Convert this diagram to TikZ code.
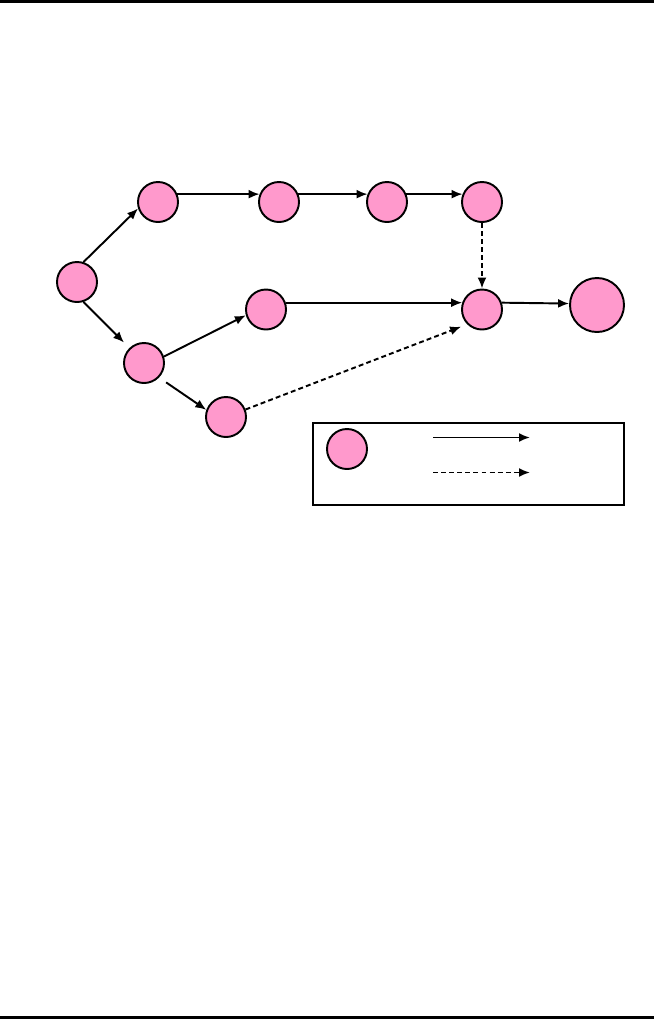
\documentclass[tikz,border=0pt]{standalone}
\usetikzlibrary{arrows.meta}
\definecolor{nodepink}{RGB}{255,153,204}
\tikzset{
  ev/.style={circle,draw,line width=1.1pt,fill=nodepink,minimum size=0.8cm,inner sep=0pt},
  evbig/.style={ev,minimum size=1.08cm},
  act/.style={->,line width=1.1pt},
  dum/.style={->,line width=1.1pt,dash pattern=on 2.8pt off 1.8pt}
}
\begin{document}
\begin{tikzpicture}[>={Latex[length=2.2mm,width=1.8mm]}]
	  \useasboundingbox (0,0) rectangle (13.08,-20.4);
	  \draw[line width=1.4pt] (0,-0.03) -- (13.08,-0.03);
	  \draw[line width=1.4pt] (0,-20.35) -- (13.08,-20.35);
	  \node[ev] (n1) at (1.54,-5.64) {};
	  \node[ev] (n2) at (3.16,-4.04) {};
	  \node[ev] (n3) at (5.58,-4.04) {};
	  \node[ev] (n4) at (7.74,-4.04) {};
	  \node[ev] (n5) at (9.64,-4.04) {};
	  \node[ev] (n6) at (5.32,-6.19) {};
	  \node[ev] (n7) at (2.88,-7.26) {};
	  \node[ev] (n8) at (4.52,-8.34) {};
	  \node[ev] (n9) at (9.64,-6.19) {};
	  \node[evbig] (n10) at (11.94,-6.10) {};
	  \draw[act] (n1.72) -- (n2.198);
	  \draw[act,shorten >=0.15cm] (n1.-72) -- (n7.134);
	  \draw[act] (n2.22) -- (n3.158);
	  \draw[act] (n3.22) -- (n4.158);
	  \draw[act] (n4.22) -- (n5.158);
	  \draw[act] (n7.18) -- (n6.196);
	  \draw[act,shorten <=0.17cm] (n7.-44) -- (n8.160);
	  \draw[act] (n6.19) -- (n9.161);
	  \draw[act] (n9.19) -- (n10.177);
	  \draw[dum] (n5) -- (n9);
	  \draw[dum,shorten >=0.13cm] (n8.21) -- (n9.225);
	  % legend
	  \draw[line width=1.1pt] (6.26,-8.46) rectangle (12.48,-10.10);
	  \node[ev] (key) at (6.94,-8.98) {};
	  \coordinate (ka) at (8.66,-8.75);
	  \coordinate (kb) at (10.60,-8.75);
	  \coordinate (kc) at (8.66,-9.45);
	  \coordinate (kd) at (10.60,-9.45);
	  \draw[act] (ka) -- (kb);
	  \draw[dum] (kc) -- (kd);
	\end{tikzpicture}
\end{document}
